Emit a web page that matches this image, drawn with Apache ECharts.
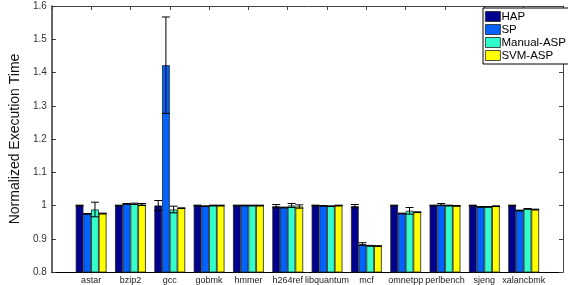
<!DOCTYPE html>
<html>
<head>
<meta charset="utf-8">
<script src="https://cdn.jsdelivr.net/npm/echarts@6/dist/echarts.min.js"></script>
<style>html,body{margin:0;padding:0;background:#fff}#c{width:568px;height:285px}</style>
</head>
<body>
<div id="c"></div>
<script>
var categories = ['astar','bzip2','gcc','gobmk','hmmer','h264ref','libquantum','mcf','omnetpp','perlbench','sjeng','xalancbmk'];
var seriesNames = ['HAP','SP','Manual-ASP','SVM-ASP'];
var hap    = [1.000, 1.000, 1.000, 1.000, 1.000, 0.998, 1.000, 0.998, 1.000, 1.000, 1.000, 1.000];
var sp     = [0.975, 1.005, 1.422, 0.998, 1.000, 0.994, 0.999, 0.884, 0.976, 1.003, 0.996, 0.985];
var manual = [0.988, 1.005, 0.988, 1.000, 1.000, 1.000, 0.998, 0.879, 0.984, 1.000, 0.996, 0.990];
var svm    = [0.976, 1.003, 0.992, 1.000, 1.000, 0.997, 1.000, 0.878, 0.980, 0.999, 0.998, 0.988];
var hapErr    = [0.001, 0.001, 0.015, 0.001, 0.001, 0.005, 0.001, 0.005, 0.001, 0.001, 0.001, 0.001];
var spErr     = [0.001, 0.001, 0.145, 0.001, 0.001, 0.001, 0.001, 0.004, 0.001, 0.003, 0.001, 0.001];
var manualErr = [0.022, 0.002, 0.010, 0.001, 0.001, 0.006, 0.001, 0.001, 0.010, 0.001, 0.001, 0.001];
var svmErr    = [0.001, 0.003, 0.001, 0.001, 0.001, 0.005, 0.001, 0.001, 0.001, 0.001, 0.001, 0.001];
var yTicks = [0.8, 0.9, 1.0, 1.1, 1.2, 1.3, 1.4, 1.5, 1.6];

var colors = ['#00008f', '#0062ff', '#33ffcc', '#ffff00'];
var values = [hap, sp, manual, svm];
var errs = [hapErr, spErr, manualErr, svmErr];
var BW = 7.7;
var FONT = 'Liberation Sans, Arial, Helvetica, sans-serif';

var axisCats = [''].concat(categories).concat(['']);
function pad(arr){ return [null].concat(arr).concat([null]); }

var series = [];
values.forEach(function(v, i){
  series.push({
    name: seriesNames[i], type: 'bar', data: pad(v),
    barWidth: BW, barGap: '0%',
    itemStyle: {color: colors[i], borderColor: '#222', borderWidth: 0.8},
    silent: true, animation: false
  });
});
var errData = [];
values.forEach(function(v, s){
  v.forEach(function(val, k){
    errData.push([k + 1, val - errs[s][k], val + errs[s][k], s]);
  });
});
series.push({
  type: 'custom', data: errData, silent: true, animation: false, z: 5,
  encode: {x: 0, y: [1, 2]},
  renderItem: function(params, api){
    var idx = api.value(0), lo = api.value(1), hi = api.value(2), s = api.value(3);
    var off = (s - 1.5) * BW;
    var pLo = api.coord([idx, lo]), pHi = api.coord([idx, hi]);
    var x = pLo[0] + off, cap = 4;
    var st = {stroke: '#000', lineWidth: 1};
    return {type: 'group', children: [
      {type: 'line', shape: {x1: x, y1: pLo[1], x2: x, y2: pHi[1]}, style: st},
      {type: 'line', shape: {x1: x - cap, y1: pLo[1], x2: x + cap, y2: pLo[1]}, style: st},
      {type: 'line', shape: {x1: x - cap, y1: pHi[1], x2: x + cap, y2: pHi[1]}, style: st}
    ]};
  }
});

var chart = echarts.init(document.getElementById('c'), null, {renderer: 'canvas'});
chart.setOption({
  animation: false,
  backgroundColor: '#fff',
  textStyle: {fontFamily: FONT},
  grid: {left: 39, right: 5, top: 6, bottom: 12},
  legend: {
    data: seriesNames, orient: 'vertical', left: 483, top: 8,
    backgroundColor: '#fff', borderColor: '#000', borderWidth: 1,
    padding: [2, 3, 2, 2], itemGap: 0, itemWidth: 15, itemHeight: 10,
    icon: 'rect',
    itemStyle: {borderColor: '#222', borderWidth: 0.8},
    textStyle: {fontFamily: FONT, fontSize: 11.5, color: '#000', lineHeight: 13, padding: [0, 0, 0, -4]}
  },
  xAxis: [{
    type: 'category', data: axisCats, boundaryGap: false,
    axisLine: {show: true, lineStyle: {color: '#000', width: 1}},
    axisTick: {show: false},
    axisLabel: {interval: 0, fontSize: 9, color: '#222', margin: 4, fontFamily: FONT},
    splitLine: {show: false}
  }, {
    type: 'category', data: axisCats, boundaryGap: false, position: 'top',
    axisLine: {show: true, lineStyle: {color: '#444', width: 1}},
    axisTick: {show: true, inside: true, length: 4, interval: 0, lineStyle: {color: '#444'}},
    axisLabel: {show: false}
  }],
  yAxis: [{
    type: 'value', min: yTicks[0], max: yTicks[yTicks.length - 1], interval: 0.1,
    name: 'Normalized Execution Time', nameLocation: 'middle', nameGap: 20,
    nameTextStyle: {fontSize: 14, color: '#111', fontFamily: FONT},
    axisLine: {show: true, lineStyle: {color: '#333', width: 1.5}},
    axisTick: {show: true, inside: true, length: 4, lineStyle: {color: '#333'}},
    axisLabel: {fontSize: 10, color: '#333', margin: 5, fontFamily: FONT,
      formatter: function(v){ return String(Math.round(v * 10) / 10); }},
    splitLine: {show: false}
  }, {
    type: 'value', min: yTicks[0], max: yTicks[yTicks.length - 1], interval: 0.1, position: 'right',
    axisLine: {show: true, lineStyle: {color: '#444', width: 1}},
    axisTick: {show: true, inside: true, length: 4, lineStyle: {color: '#444'}},
    axisLabel: {show: false}, splitLine: {show: false}
  }],
  series: series
});
</script>
</body>
</html>
